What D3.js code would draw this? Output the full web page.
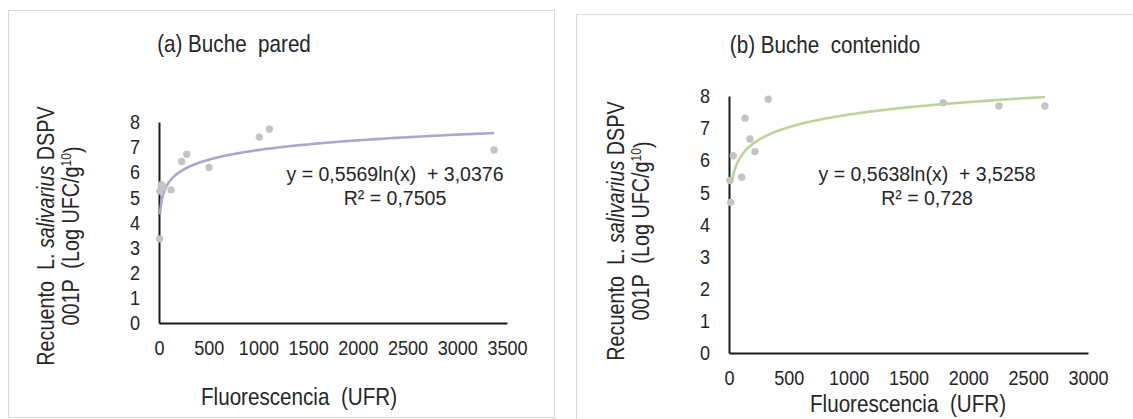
<!DOCTYPE html>
<html><head><meta charset="utf-8">
<script src="https://cdn.jsdelivr.net/npm/d3@7"></script>
<style>
body{margin:0;background:#fff}
svg{display:block}
text{font-family:"Liberation Sans",Arial,sans-serif;fill:#262626;white-space:pre}
</style>
</head><body>
<svg id="c" width="1133" height="419"></svg>
<script>
// ---- data ----
const titleA = "(a) Buche  pared";
const titleB = "(b) Buche  contenido";
const xTicksA = [0, 500, 1000, 1500, 2000, 2500, 3000, 3500];
const xTicksB = [0, 500, 1000, 1500, 2000, 2500, 3000];
const yTicks = [0, 1, 2, 3, 4, 5, 6, 7, 8];
const xA = [5, 8, 25, 45, 121, 228, 279, 503, 1009, 1110, 3370];
const yA = [3.35, 5.25, 5.5, 5.4, 5.3, 6.43, 6.72, 6.19, 7.4, 7.71, 6.89];
const xB = [8, 14, 36, 106, 134, 175, 217, 328, 1790, 2256, 2640];
const yB = [5.37, 4.69, 6.14, 5.47, 7.31, 6.66, 6.27, 7.9, 7.79, 7.69, 7.69];
const coefA = [0.5569, 3.0376];
const coefB = [0.5638, 3.5258];
const eqA = ["y = 0,5569ln(x)  + 3,0376", "R² = 0,7505"];
const eqB = ["y = 0,5638ln(x)  + 3,5258", "R² = 0,728"];
const trendRangeA = [10, 3370];
const trendRangeB = [25, 2640];
const xTitle = "Fluorescencia  (UFR)";

const SX = 0.86; // condensed look of the reference typeface
const svg = d3.select("#c");

function squeeze(sel, sx) {
  sel.each(function () {
    const t = d3.select(this);
    const x = +t.attr("x") || 0, y = +t.attr("y") || 0;
    const base = t.attr("transform") || "";
    t.attr("x", null).attr("y", null)
      .attr("transform", (base ? base + " " : `translate(${x},${y}) `) + `scale(${sx},1)`);
  });
}

function panel(o) {
  const g = svg.append("g");
  g.append("rect").attr("x", o.frame[0]).attr("y", o.frame[1])
    .attr("width", o.frame[2]).attr("height", o.frame[3])
    .attr("fill", "#fff").attr("stroke", "#d9d9d9").attr("stroke-width", 1);

  const x = d3.scaleLinear().domain([0, o.xMax]).range([o.px0, o.px1]);
  const y = d3.scaleLinear().domain([0, 8]).range([o.py0, o.py1]);

  // axes
  const xa = g.append("g").attr("transform", `translate(0,${o.py0})`)
    .call(d3.axisBottom(x).tickValues(o.xTicks).tickSize(0).tickPadding(o.xPad).tickFormat(d3.format("d")));
  const ya = g.append("g").attr("transform", `translate(${o.px0},0)`)
    .call(d3.axisLeft(y).tickValues(yTicks).tickSize(0).tickPadding(o.yPad).tickFormat(d3.format("d")));
  [xa, ya].forEach(a => {
    a.select(".domain").attr("stroke", "#1a1a1a").attr("stroke-width", 2);
    a.selectAll("text").attr("font-size", 21).attr("fill", "#262626")
      .style("font-family", '"Liberation Sans",Arial,sans-serif');
    squeeze(a.selectAll("text"), SX);
  });

  // trendline
  const tx = d3.range(0, 201).map(i => Math.exp(Math.log(o.trend[0]) + (Math.log(o.trend[1]) - Math.log(o.trend[0])) * i / 200));
  g.append("path").datum(tx)
    .attr("d", d3.line().x(d => x(d)).y(d => y(o.coef[0] * Math.log(d) + o.coef[1])))
    .attr("fill", "none").attr("stroke", o.lineColor).attr("stroke-width", 2.6);

  // points
  g.selectAll("circle.pt").data(o.xs.map((v, i) => [v, o.ys[i]])).enter().append("circle")
    .attr("cx", d => x(d[0])).attr("cy", d => y(d[1])).attr("r", 3.7)
    .attr("fill", "#c4c4c4");

  const texts = [];
  // titles
  texts.push(g.append("text").attr("x", o.titlePos[0]).attr("y", o.titlePos[1]).attr("dy", "0.35em")
    .attr("text-anchor", "middle").attr("font-size", 24).text(o.title));
  texts.push(g.append("text").attr("x", o.xTitlePos[0]).attr("y", o.xTitlePos[1]).attr("dy", "0.35em")
    .attr("text-anchor", "middle").attr("font-size", 24).text(xTitle));

  // y title
  const t1 = g.append("text").attr("transform", `translate(${o.yTitleX[0]},${o.yTitleY}) rotate(-90)`)
    .attr("dy", "0.35em").attr("text-anchor", "middle").attr("font-size", 23);
  t1.append("tspan").text("Recuento  L. ");
  t1.append("tspan").attr("font-style", "italic").text("salivarius");
  t1.append("tspan").text(" DSPV");
  const t2 = g.append("text").attr("transform", `translate(${o.yTitleX[1]},${o.yTitleY}) rotate(-90)`)
    .attr("dy", "0.35em").attr("text-anchor", "middle").attr("font-size", 23);
  t2.append("tspan").text("001P  (Log UFC/g");
  t2.append("tspan").attr("font-size", 14).attr("dy", "-0.6em").text("10");
  t2.append("tspan").attr("dy", "0.45em").text(")");
  texts.push(t1, t2);

  // equation
  const eq = [];
  eq.push(g.append("text").attr("x", o.eqPos[0]).attr("y", o.eqPos[1]).attr("dy", "0.35em")
    .attr("text-anchor", "middle").attr("font-size", 21).text(o.eq[0]));
  eq.push(g.append("text").attr("x", o.eqPos[0]).attr("y", o.eqPos[1] + 24).attr("dy", "0.35em")
    .attr("text-anchor", "middle").attr("font-size", 21).text(o.eq[1]));

  texts.forEach(t => squeeze(t, SX));
  eq.forEach(t => squeeze(t, 0.93));
}

panel({
  frame: [8.5, 10.5, 546, 407], xMax: 3500, px0: 159, px1: 507, py0: 323, py1: 122,
  xTicks: xTicksA, xPad: 17, yPad: 19, xs: xA, ys: yA, coef: coefA, trend: trendRangeA,
  lineColor: "#a9a7d1", title: titleA, titlePos: [234, 44], xTitlePos: [299, 397],
  yTitleX: [46, 71], yTitleY: 236, eq: eqA, eqPos: [395, 174]
});
panel({
  frame: [576.5, 14.5, 570, 420], xMax: 3000, px0: 729, px1: 1088, py0: 353, py1: 96,
  xTicks: xTicksB, xPad: 17, yPad: 19, xs: xB, ys: yB, coef: coefB, trend: trendRangeB,
  lineColor: "#bcd39c", title: titleB, titlePos: [825, 45], xTitlePos: [908, 404],
  yTitleX: [616, 641], yTitleY: 231, eq: eqB, eqPos: [927, 174]
});
</script>
</body></html>
